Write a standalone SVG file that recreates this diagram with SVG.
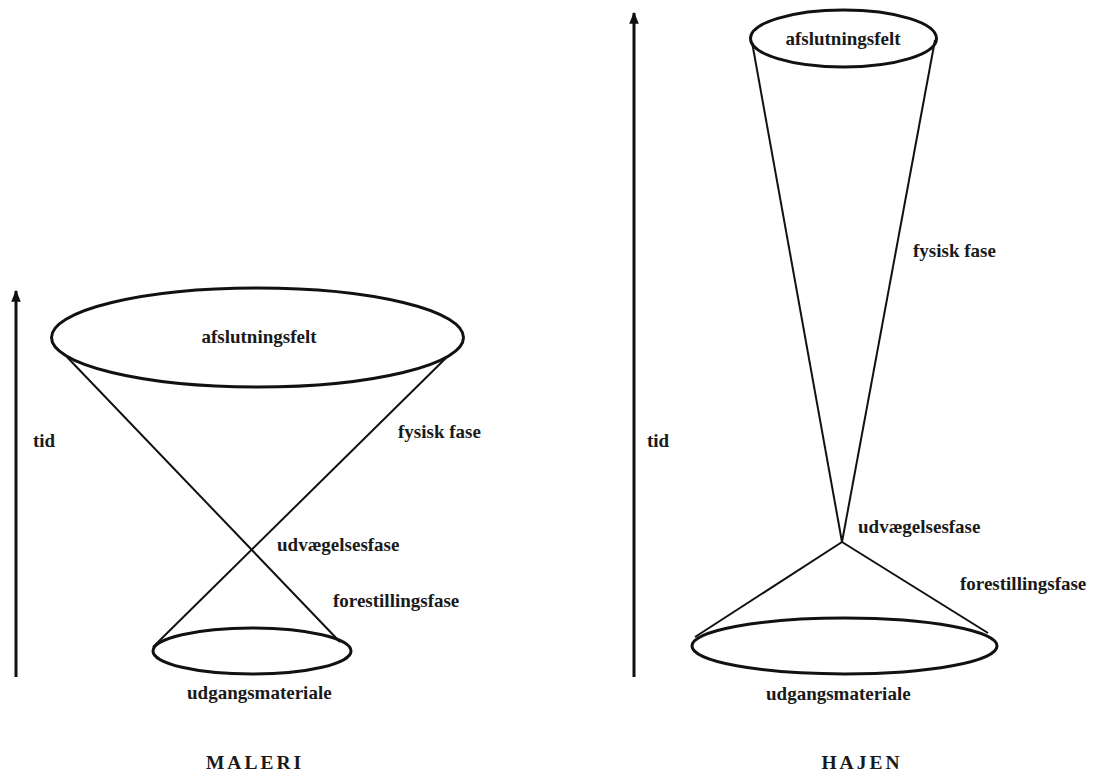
<svg xmlns="http://www.w3.org/2000/svg" width="1093" height="774" viewBox="0 0 1093 774">
  <defs>
    <marker id="head" viewBox="0 0 10 10" refX="9" refY="5" markerWidth="4" markerHeight="4" orient="auto" markerUnits="strokeWidth">
      <path d="M0,1 L10,5 L0,9 Z" fill="#111"/>
    </marker>
    <style>
      .lbl { font-family: "Liberation Serif", "Times New Roman", serif; font-weight: bold; font-size: 19px; fill: #1a1a1a; }
      .ttl { font-family: "Liberation Serif", "Times New Roman", serif; font-weight: bold; font-size: 19.5px; fill: #1a1a1a; letter-spacing: 3px; text-anchor: middle; }
      .ring { fill: none; stroke: #111; stroke-width: 3; }
      .cone { fill: none; stroke: #111; stroke-width: 2; }
      .axis { fill: none; stroke: #111; stroke-width: 3; }
    </style>
  </defs>
  <rect width="1093" height="774" fill="#fff"/>

  <!-- connectors: time axes and cone sides -->
  <g id="connectors">
    <line class="axis" x1="16" y1="677" x2="16" y2="291" marker-end="url(#head)"/>
    <line class="axis" x1="634" y1="677" x2="634" y2="13" marker-end="url(#head)"/>
    <!-- MALERI: hourglass -->
    <line class="cone" x1="67" y1="357" x2="340" y2="642"/>
    <line class="cone" x1="447" y1="357" x2="153" y2="647"/>
    <!-- HAJEN: long upper cone, wide lower cone -->
    <line class="cone" stroke-width="2.5" x1="752" y1="42" x2="842" y2="542"/>
    <line class="cone" stroke-width="2.5" x1="935" y1="40" x2="842" y2="542"/>
    <line class="cone" stroke-width="2.5" x1="842" y1="542" x2="695" y2="637"/>
    <line class="cone" stroke-width="2.5" x1="842" y1="542" x2="988" y2="633"/>
  </g>

  <!-- MALERI -->
  <g id="maleri-top">
    <ellipse class="ring" cx="257.5" cy="337.5" rx="206" ry="49.5"/>
    <text class="lbl" x="259" y="343" text-anchor="middle">afslutningsfelt</text>
  </g>
  <g id="maleri-bottom">
    <ellipse class="ring" cx="252" cy="651" rx="99" ry="23"/>
    <text class="lbl" x="187" y="699">udgangsmateriale</text>
  </g>
  <g id="maleri-labels">
    <text class="lbl" x="33" y="447">tid</text>
    <text class="lbl" x="398" y="438">fysisk fase</text>
    <text class="lbl" x="277" y="551">udvægelsesfase</text>
    <text class="lbl" x="333" y="607">forestillingsfase</text>
    <text class="ttl" x="255" y="769">MALERI</text>
  </g>

  <!-- HAJEN -->
  <g id="hajen-top">
    <ellipse class="ring" cx="843.5" cy="38.5" rx="93" ry="28.5"/>
    <text class="lbl" x="843" y="45" text-anchor="middle">afslutningsfelt</text>
  </g>
  <g id="hajen-bottom">
    <ellipse class="ring" cx="844.5" cy="646" rx="152.5" ry="28"/>
    <text class="lbl" x="766" y="700">udgangsmateriale</text>
  </g>
  <g id="hajen-labels">
    <text class="lbl" x="647" y="447">tid</text>
    <text class="lbl" x="913" y="257">fysisk fase</text>
    <text class="lbl" x="858" y="533">udvægelsesfase</text>
    <text class="lbl" x="960" y="590">forestillingsfase</text>
    <text class="ttl" x="862" y="769">HAJEN</text>
  </g>
</svg>
